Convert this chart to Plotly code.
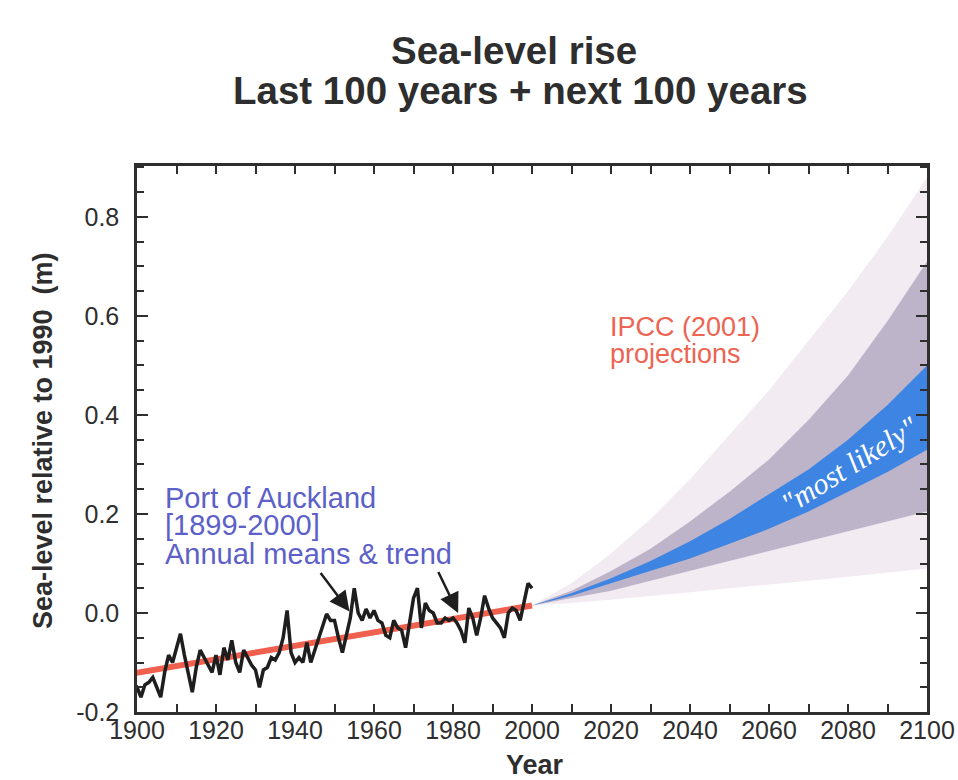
import plotly.graph_objects as go

# ---------------- data ----------------
obs_years = list(range(1899, 2001))
obs_sea_level = [
    -0.14,                                                                   # 1899
    -0.15, -0.17, -0.145, -0.14, -0.13, -0.15, -0.17, -0.12, -0.085, -0.10,   # 1900-1909
    -0.07, -0.042, -0.085, -0.12, -0.16, -0.11, -0.075, -0.09, -0.105, -0.12, # 1910-1919
    -0.085, -0.125, -0.07, -0.095, -0.055, -0.10, -0.12, -0.075, -0.09, -0.105,  # 1920-1929
    -0.115, -0.15, -0.115, -0.11, -0.09, -0.095, -0.08, -0.05, 0.005, -0.08,  # 1930-1939
    -0.10, -0.09, -0.10, -0.06, -0.10, -0.075, -0.055, -0.03, -0.002, -0.015, # 1940-1949
    -0.015, -0.05, -0.08, -0.045, -0.01, 0.05, 0.0, -0.015, 0.008, -0.01,     # 1950-1959
    0.005, -0.015, -0.02, -0.045, -0.05, -0.015, -0.03, -0.035, -0.07, -0.02, # 1960-1969
    0.03, 0.05, -0.03, 0.02, 0.005, 0.0, -0.02, -0.02, -0.01, -0.015,         # 1970-1979
    -0.01, -0.02, -0.035, -0.06, 0.01, -0.01, -0.045, -0.01, 0.035, 0.01,     # 1980-1989
    -0.01, -0.02, -0.03, -0.05, 0.0, 0.01, 0.005, -0.015, 0.02, 0.06,         # 1990-1999
    0.05,                                                                    # 2000
]
assert len(obs_years) == len(obs_sea_level)

trend_years = [1899, 2000]
trend_values = [-0.122, 0.015]

proj_years = [2000, 2010, 2020, 2030, 2040, 2050, 2060, 2070, 2080, 2090, 2100]
outer_low = [0.015, 0.020, 0.027, 0.034, 0.042, 0.050, 0.057, 0.065, 0.073, 0.081, 0.090]
outer_high = [0.015, 0.060, 0.120, 0.190, 0.270, 0.360, 0.450, 0.550, 0.650, 0.760, 0.880]
mid_low = [0.015, 0.030, 0.045, 0.065, 0.085, 0.105, 0.125, 0.145, 0.165, 0.185, 0.205]
mid_high = [0.015, 0.045, 0.085, 0.130, 0.185, 0.245, 0.310, 0.390, 0.480, 0.590, 0.710]
likely_low = [0.015, 0.035, 0.060, 0.085, 0.110, 0.140, 0.170, 0.205, 0.245, 0.285, 0.330]
likely_high = [0.015, 0.040, 0.070, 0.105, 0.145, 0.190, 0.240, 0.290, 0.350, 0.420, 0.500]

x_tick_labels = ["1900", "1920", "1940", "1960", "1980", "2000", "2020", "2040", "2060", "2080", "2100"]
y_tick_labels = ["-0.2", "0.0", "0.2", "0.4", "0.6", "0.8"]

# ---------------- styles ----------------
FONT = "Liberation Sans, Arial, Helvetica, sans-serif"
DARK = "#2e2e2e"
PALE = "rgb(242,235,242)"
MAUVE = "rgb(190,180,202)"
BLUE = "rgb(62,132,226)"
RED = "rgb(240,96,78)"
PORT_BLUE = "rgb(92,96,200)"
SALMON = "rgb(236,100,82)"

fig = go.Figure()


def band(lo, hi, color):
    fig.add_trace(go.Scatter(
        x=proj_years + proj_years[::-1],
        y=lo + hi[::-1],
        fill="toself", fillcolor=color,
        line=dict(width=0, color=color),
        mode="lines", hoverinfo="skip", showlegend=False,
    ))


band(outer_low, outer_high, PALE)
band(mid_low, mid_high, MAUVE)
band(likely_low, likely_high, BLUE)

fig.add_trace(go.Scatter(
    x=trend_years, y=trend_values, mode="lines",
    line=dict(color=RED, width=6), showlegend=False,
))
fig.add_trace(go.Scatter(
    x=obs_years, y=obs_sea_level, mode="lines",
    line=dict(color="#1e1e1e", width=3.5), showlegend=False,
))

ann = []
# title lines
ann.append(dict(text="<b>Sea-level rise</b>", x=0.477, y=1.212, xref="paper", yref="paper",
                showarrow=False, font=dict(family=FONT, size=38.5, color=DARK),
                xanchor="center", yanchor="middle"))
ann.append(dict(text="<b>Last 100 years + next 100 years</b>", x=0.485, y=1.139, xref="paper",
                yref="paper", showarrow=False, font=dict(family=FONT, size=38.5, color=DARK),
                xanchor="center", yanchor="middle"))
# axis titles
ann.append(dict(text="<b>Sea-level relative to 1990  (m)</b>", x=-0.119, y=0.498,
                xref="paper", yref="paper", textangle=-90, showarrow=False,
                font=dict(family=FONT, size=27, color=DARK), xanchor="center", yanchor="middle"))
ann.append(dict(text="<b>Year</b>", x=0.504, y=-0.097, xref="paper", yref="paper",
                showarrow=False, font=dict(family=FONT, size=27, color=DARK),
                xanchor="center", yanchor="middle"))
# Port of Auckland label
for txt, yv in [("Port of Auckland", 0.233), ("[1899-2000]", 0.177), ("Annual means &amp; trend", 0.120)]:
    ann.append(dict(text=txt, x=1906.5, y=yv, xref="x", yref="y", showarrow=False,
                    font=dict(family=FONT, size=29, color=PORT_BLUE),
                    xanchor="left", yanchor="middle"))
# IPCC label
for txt, yv in [("IPCC (2001)", 0.578), ("projections", 0.524)]:
    ann.append(dict(text=txt, x=2019.3, y=yv, xref="x", yref="y", showarrow=False,
                    font=dict(family=FONT, size=27, color=SALMON),
                    xanchor="left", yanchor="middle"))
# most likely
ann.append(dict(text='"most likely"', x=2080.5, y=0.30, xref="x", yref="y", showarrow=False,
                textangle=-32, font=dict(family="Liberation Serif, Times New Roman, serif",
                                         size=30, color="white", style="italic"),
                xanchor="center", yanchor="middle"))
# arrows
for (tx, ty), (hx, hy) in [((1946.2, 0.084), (1953.8, 0.003)), ((1976.1, 0.086), (1981.3, 0.0))]:
    ann.append(dict(x=hx, y=hy, ax=tx, ay=ty, xref="x", yref="y", axref="x", ayref="y",
                    showarrow=True, arrowhead=2, arrowsize=1.6, arrowwidth=2.5,
                    arrowcolor="#1e1e1e", text=""))

fig.update_layout(
    width=958, height=780,
    margin=dict(l=137, r=31, t=166, b=68, autoexpand=False),
    paper_bgcolor="white", plot_bgcolor="white",
    annotations=ann, showlegend=False,
    font=dict(family=FONT, color=DARK),
)

fig.update_xaxes(
    range=[1900, 2100], tickvals=[int(v) for v in x_tick_labels], ticktext=x_tick_labels,
    ticks="inside", ticklen=8, tickwidth=1.5, tickcolor=DARK,
    minor=dict(dtick=10, tick0=1900, ticks="inside", ticklen=8, tickwidth=1.5, tickcolor=DARK),
    showline=True, linewidth=2.5, linecolor=DARK, mirror="ticks",
    showgrid=False, zeroline=False, automargin=False,
    tickfont=dict(family=FONT, size=25, color=DARK), ticklabelstandoff=-6,
)
fig.update_yaxes(
    range=[-0.2, 0.903], tickvals=[float(v) for v in y_tick_labels], ticktext=y_tick_labels,
    ticks="inside", ticklen=11, tickwidth=1.5, tickcolor=DARK,
    minor=dict(dtick=0.05, tick0=0, ticks="inside", ticklen=7, tickwidth=1.5, tickcolor=DARK),
    showline=True, linewidth=2.5, linecolor=DARK, mirror="ticks",
    showgrid=False, zeroline=False, automargin=False,
    tickfont=dict(family=FONT, size=25, color=DARK), ticklabelstandoff=10,
)

# remove the browser's default 8px page margin so the 958x780 figure fills the window exactly
fig.write_html("out.html", config={"displayModeBar": False},
               post_script="document.body.style.margin='0px';")
